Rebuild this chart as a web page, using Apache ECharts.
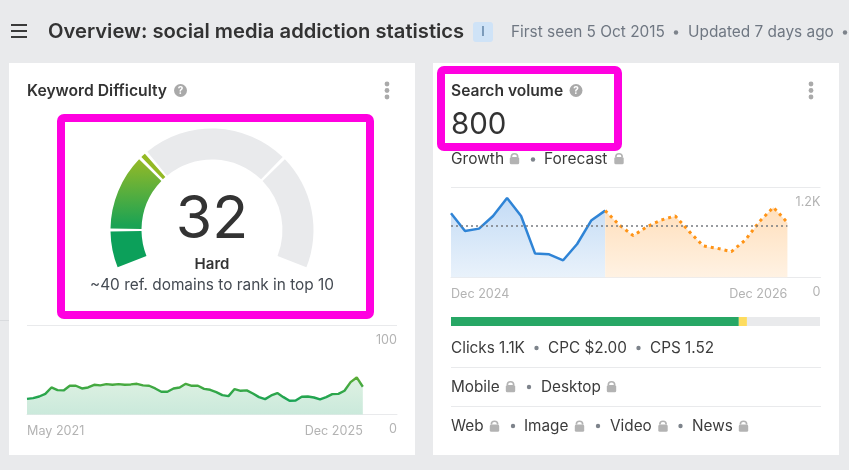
<!DOCTYPE html>
<html><head><meta charset="utf-8">
<style>html,body{margin:0;padding:0;background:#e9eaec}#c{width:849px;height:470px}</style>
<script src="https://cdn.jsdelivr.net/npm/echarts@6/dist/echarts.min.js"></script>
</head><body><div id="c"></div>
<script>
const gaugeNames = ['a','b','c','rest1','rest2'];
const gaugeValues = [10, 20, 2, 38, 30];
const difficultyValues = [17.5,18.3,20.1,23.1,30.2,27.2,26.9,32.1,32.1,29.1,30.2,33.2,32.5,34,33.2,34,33.2,33.6,34.3,32.5,32.1,29.1,25.4,25.4,29.1,30.2,34.3,32.1,32.1,28.7,27.6,25,21.6,20.5,28.4,26.5,26.9,23.5,19.4,17.2,21.3,23.9,19.4,15.3,15.7,19.8,20.1,19,16.8,19.4,22.8,23.1,26.5,36.2,41.4,31];
const difficultyTicks = ['May 2021','Dec 2025'];
const volumeHistory = [853,618,649,818,1058,818,316,307,227,444,756,889];
const volumeForecast = [889,698,556,676,764,818,609,418,387,342,498,742,933,729];
const volumeAverage = 684;
const volumeTicks = ['Dec 2024','Dec 2026'];
const clickShares = [78, 2.2, 19.8];
const clickNames = ['Clicks','Paid','None'];

const FONT = 'Inter, "Noto Sans", sans-serif';
const g = [];
const rect = (x,y,w,h,fill,r,z=-5)=>g.push({type:'rect',z,silent:true,shape:{x,y,width:w,height:h,r:r||0},style:{fill}});
const txt = (text,x,y,font,fill,align='left')=>g.push({type:'text',z:50,silent:true,style:{text,x,y,fill,font:font+' '+FONT,textAlign:align,textVerticalAlign:'middle'}});
const dot = (x,y,r,fill,z=40)=>g.push({type:'circle',z,silent:true,shape:{cx:x,cy:y,r},style:{fill}});
const bullet = (x,y)=>dot(x,y,2.2,'#7d838b');
const lock = (x,y)=>{
  g.push({type:'arc',z:40,silent:true,shape:{cx:x,cy:y-1.5,r:3.2,startAngle:Math.PI,endAngle:0,clockwise:true},style:{stroke:'#b3b3b3',lineWidth:1.6,fill:'none'}});
  rect(x-4.7,y-1.5,9.4,7.2,'#b3b3b3',1.5,40);
};
const help = (x,y)=>{dot(x,y,6.5,'#a9a9a9');txt('?',x,y+.5,'700 10px','#ffffff','center');};
const kebab = (x)=>{[84,90.5,97].forEach(y=>dot(x,y,2.4,'#aaaaaa'));};
const hline = (x1,x2,y,c='#e9eaec')=>rect(x1,y,x2-x1,1,c,0,-3);

rect(9,63,406,392,'#ffffff',0);
rect(433,63,406,392,'#ffffff',0);
rect(0,320,9,1,'#d9dbde',0);
[24,30,36].forEach(y=>rect(11,y,16,2,'#3a3a3a',0,5));
txt('Overview: social media addiction statistics',48,31.5,'600 20.2px','#333333');
rect(473,22,20,20,'#cfe3f7',3,5);
txt('I',483,32,'400 13px','#4a6f96','center');
txt('First seen 5 Oct 2015',511,32.5,'400 15.4px','#6f7782');
bullet(676,32.5);
txt('Updated 7 days ago',688,32.5,'400 15.4px','#6f7782');
bullet(845,32.5);

txt('Keyword Difficulty',27,91,'600 15.7px','#333333');
help(180.5,90.5); kebab(387);
txt('32',212,220.5,'400 59px','#333333','center');
txt('Hard',212,264,'600 15px','#333333','center');
txt('~40 ref. domains to rank in top 10',212,285,'400 15.4px','#444a52','center');

txt('Search volume',451,91,'600 15.6px','#333333');
help(576,90.5); kebab(811);
txt('800',451,125.5,'400 29.5px','#333333');
txt('Growth',451,159,'400 15.5px','#3c3c3c'); lock(514.5,158.5); bullet(533,159.5);
txt('Forecast',544,159,'400 15.5px','#3c3c3c'); lock(619,158.5);

txt('Clicks 1.1K',451,348,'400 15.3px','#3c3c3c'); bullet(536.5,348);
txt('CPC $2.00',548,348,'400 15.3px','#3c3c3c'); bullet(638.5,348);
txt('CPS 1.52',650,348,'400 15.3px','#3c3c3c');
hline(451,821,367);
txt('Mobile',451,387,'400 15.3px','#3c3c3c'); lock(510.5,386.5); bullet(529,387);
txt('Desktop',541,387,'400 15.3px','#3c3c3c'); lock(611.5,386.5);
hline(451,821,406);
txt('Web',451,426,'400 15.3px','#3c3c3c'); lock(494.5,426); bullet(513,426);
txt('Image',524,426,'400 15.3px','#3c3c3c'); lock(579.5,426); bullet(598,426);
txt('Video',610,426,'400 15.3px','#3c3c3c'); lock(663,426); bullet(680.5,426);
txt('News',692,426,'400 15.3px','#3c3c3c'); lock(743.5,426);

g.push({type:'rect',z:60,silent:true,shape:{x:61,y:118,width:309,height:197,r:3},style:{fill:'none',stroke:'#ff00e0',lineWidth:8}});
g.push({type:'rect',z:60,silent:true,shape:{x:441,y:70,width:177,height:77,r:3},style:{fill:'none',stroke:'#ff00e0',lineWidth:8}});

const grad = (y,y2,c1,c2,global)=>({type:'linear',x:0,y,x2:0,y2,global:!!global,colorStops:[{offset:0,color:c1},{offset:1,color:c2}]});
const gaugeColors = [
  '#0ca05a',
  grad(158,225,'#97ba26','#1ba354',true),
  '#94b924',
  '#e9eaec','#e9eaec'
];
const axisGray = {color:'#b3b3b3',fontSize:12.6,fontFamily:FONT};
const sparkY = (idx,max,fmt,pad)=>({type:'value',gridIndex:idx,min:0,max,interval:max,position:'right',
  axisLine:{show:false},axisTick:{show:false},
  splitLine:{show:true,lineStyle:{color:'#e9eaec',width:1}},
  axisLabel:{...axisGray,inside:true,align:'right',verticalAlign:'top',margin:0,padding:[pad,0,0,0],formatter:fmt}});
const sparkX = (idx,max,val,label,align,line)=>({type:'value',gridIndex:idx,min:0,max,position:'bottom',
  axisLine:{show:line,onZero:false,lineStyle:{color:'#e9eaec'}},axisTick:{show:false},splitLine:{show:false},
  axisLabel:{...axisGray,align,margin:10,customValues:[val],formatter:()=>label,hideOverlap:false}});
const pairs = (arr,off=0)=>arr.map((v,i)=>[i+off,v]);

const option = {
  animation:false,
  backgroundColor:'#e9eaec',
  grid:[
    {left:27,right:452,top:325,height:89.5},
    {left:451,right:28.5,top:187.3,height:90},
    {left:451,right:29,top:317,height:9}
  ],
  xAxis:[
    sparkX(0,60.6,0,difficultyTicks[0],'left',true),
    sparkX(0,60.6,55,difficultyTicks[1],'right',false),
    sparkX(1,26.36,0,volumeTicks[0],'left',true),
    sparkX(1,26.36,24,volumeTicks[1],'right',false),
    {type:'value',gridIndex:2,min:0,max:100,show:false}
  ],
  yAxis:[
    sparkY(0,100,v=>String(v),8.5),
    sparkY(1,1200,v=>v===0?'0':'1.2K',8),
    {type:'category',gridIndex:2,data:['share'],show:false}
  ],
  series:[
    {type:'pie',silent:true,center:[212,230],radius:[70.5,101.5],startAngle:202.5,endAngle:-22.5,padAngle:1.8,
      clockwise:true,label:{show:false},labelLine:{show:false},
      data:gaugeValues.map((v,i)=>({name:gaugeNames[i],value:v,itemStyle:{color:gaugeColors[i]}}))},
    {type:'line',silent:true,xAxisIndex:0,yAxisIndex:0,data:pairs(difficultyValues),showSymbol:false,
      lineStyle:{width:2.4,color:grad(372,405,'#6aae2f','#0ea25a',true)},
      areaStyle:{color:grad(375,415,'#e0f2e3','#cae9db',true),opacity:1}},
    {type:'line',silent:true,xAxisIndex:2,yAxisIndex:1,data:pairs(volumeHistory),showSymbol:false,z:3,
      lineStyle:{width:2.5,color:'#2f84d6'},
      areaStyle:{color:grad(197,277,'#c3dbf5','#e9f2fb',true),opacity:1}},
    {type:'line',silent:true,xAxisIndex:2,yAxisIndex:1,data:pairs(volumeForecast,11),showSymbol:false,z:3,
      lineStyle:{width:3,color:'#ff9417',type:[3,4]},
      areaStyle:{color:grad(197,277,'#ffdcb6','#fff2e3',true),opacity:1},
      markLine:{silent:true,symbol:'none',label:{show:false},lineStyle:{color:'#777b80',type:[2,3],width:1.5},
        data:[[{coord:[0,volumeAverage]},{coord:[24,volumeAverage]}]]}},
    ...clickShares.map((v,i)=>({type:'bar',silent:true,name:clickNames[i],xAxisIndex:4,yAxisIndex:2,stack:'s',barWidth:9,
      data:[v],itemStyle:{color:['#27a765','#fddc5f','#e9eaec'][i]}}))
  ],
  graphic:{elements:g}
};
const chart = echarts.init(document.getElementById('c'),null,{width:849,height:470});
chart.setOption(option);
</script></body></html>
